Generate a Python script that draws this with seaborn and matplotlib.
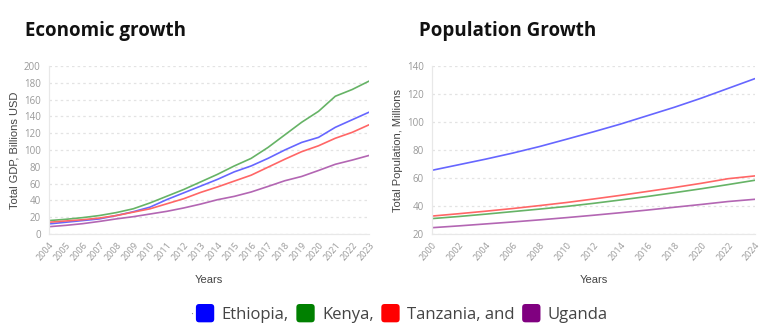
import matplotlib
matplotlib.use("Agg")
import matplotlib.pyplot as plt
import seaborn as sns
import pandas as pd
from matplotlib.patches import Patch, FancyBboxPatch
from matplotlib.legend_handler import HandlerPatch

countries = ["Ethiopia", "Kenya", "Tanzania", "Uganda"]
legend_labels = ["Ethiopia,", "Kenya,", "Tanzania, and", "Uganda"]
base_colors = ["#0000ff", "#008000", "#ff0000", "#800080"]
line_colors = ["#6666ff", "#66b366", "#ff6666", "#b366b3"]

gdp_years = list(range(2004, 2024))
gdp_ethiopia = [12, 14, 16, 18, 22, 26.5, 32, 41, 49, 57, 65, 74, 81, 90, 100, 109, 115, 127, 136, 145]
gdp_kenya = [16, 17.5, 19.5, 22, 25.5, 30, 37, 45, 53, 62, 71, 81, 90, 103, 118, 133, 146, 164, 172, 182]
gdp_tanzania = [14, 15.5, 17, 19, 22, 26, 30, 36, 42, 49.5, 56, 63, 70, 79.5, 89, 98, 105, 114, 121, 130]
gdp_uganda = [8.7, 10.3, 12.3, 15, 18, 20.6, 23.8, 27, 31, 35.6, 40.8, 44.8, 50, 56.6, 63.4, 68.5, 75.6, 83, 88, 93.5]

pop_years = list(range(2000, 2025, 2))
pop_ethiopia = [65.5, 69.5, 73.5, 77.8, 82.5, 87.7, 93, 98.5, 104.5, 110.5, 117, 124, 131]
pop_kenya = [31, 32.5, 34.2, 36, 37.8, 39.7, 41.9, 44.3, 46.8, 49.5, 52.3, 55.3, 58.4]
pop_tanzania = [32.8, 34.5, 36.3, 38.2, 40.3, 42.5, 45, 47.6, 50.4, 53.2, 56.2, 59.5, 61.5]
pop_uganda = [24.5, 25.8, 27.2, 28.6, 30.1, 31.7, 33.4, 35.2, 37.1, 39.1, 41.1, 43.2, 44.8]

def long_df(years, series):
    rows = []
    for c, vals in zip(countries, series):
        for y, v in zip(years, vals):
            rows.append({"Year": y, "Value": v, "Country": c})
    return pd.DataFrame(rows)

gdp_df = long_df(gdp_years, [gdp_ethiopia, gdp_kenya, gdp_tanzania, gdp_uganda])
pop_df = long_df(pop_years, [pop_ethiopia, pop_kenya, pop_tanzania, pop_uganda])
palette = dict(zip(countries, line_colors))

sns.set_theme(style="white")
plt.rcParams["font.family"] = ["Open Sans", "DejaVu Sans"]

fig = plt.figure(figsize=(7.68, 3.35), dpi=100)
ax1 = fig.add_axes([49 / 768, 1 - 234 / 335, 320 / 768, 168 / 335])
ax2 = fig.add_axes([432 / 768, 1 - 234 / 335, 323 / 768, 168 / 335])

def style(ax, years, ylim, step, ylabel):
    ax.set_xlim(years[0], years[-1])
    ax.set_ylim(*ylim)
    ax.set_xticks(years)
    ax.set_yticks(range(ylim[0], ylim[1] + 1, step))
    ax.tick_params(axis="x", labelrotation=50, labelsize=6.5, colors="#e8e8e8",
                   labelcolor="#999999", length=4, pad=1)
    ax.tick_params(axis="y", labelsize=7, colors="#e8e8e8", labelcolor="#999999",
                   length=4, pad=2)
    for lbl in ax.get_xticklabels():
        lbl.set_ha("right")
        lbl.set_rotation_mode("anchor")
    ax.grid(axis="y", color="#e3e3e3", linestyle=(0, (2, 2.5)), linewidth=0.9)
    ax.set_axisbelow(True)
    for s in ["top", "right"]:
        ax.spines[s].set_visible(False)
    for s in ["left", "bottom"]:
        ax.spines[s].set_color("#e8e8e8")
        ax.spines[s].set_linewidth(0.9)
    ax.set_ylabel(ylabel, fontsize=8, color="#444444", labelpad=3,
                  family=["Liberation Sans", "DejaVu Sans"])
    ax.set_xlabel("Years", fontsize=8, color="#444444", labelpad=9,
                  family=["Liberation Sans", "DejaVu Sans"])

sns.lineplot(data=gdp_df, x="Year", y="Value", hue="Country", palette=palette,
             linewidth=1.2, ax=ax1, legend=False)
sns.lineplot(data=pop_df, x="Year", y="Value", hue="Country", palette=palette,
             linewidth=1.2, ax=ax2, legend=False)
style(ax1, gdp_years, (0, 200), 20, "Total GDP, Billions USD")
style(ax2, pop_years, (20, 140), 20, "Total Population, Millions")

fig.text(25 / 768, 1 - 31 / 335, "Economic growth", fontsize=13.5, fontweight="bold",
         color="#111111", va="center", ha="left")
fig.text(419 / 768, 1 - 31 / 335, "Population Growth", fontsize=13.5, fontweight="bold",
         color="#111111", va="center", ha="left")


class RoundSquareHandler(HandlerPatch):
    def create_artists(self, legend, orig_handle, xdescent, ydescent, width, height,
                       fontsize, trans):
        s = fontsize * 1.1
        x = -xdescent + (width - s) / 2
        y = -ydescent + (height - s) / 2
        p = FancyBboxPatch((x, y), s, s,
                           boxstyle="round,pad=0,rounding_size=%f" % (s * 0.18),
                           facecolor=orig_handle.get_facecolor(), edgecolor="none",
                           transform=trans)
        return [p]


handles = [Patch(facecolor=c) for c in base_colors]
leg = fig.legend(handles, legend_labels, loc="center", bbox_to_anchor=(402 / 768, 1 - 315 / 335),
                 ncol=4, frameon=False, fontsize=12, handlelength=1.1, handletextpad=0.45,
                 columnspacing=0.45, borderpad=0,
                 handler_map={Patch: RoundSquareHandler()})
for t in leg.get_texts():
    t.set_color("#444444")
fig.text(192 / 768, 1 - 315 / 335, "·", fontsize=8, color="#888888", ha="center", va="center")

fig.savefig("out.png", dpi=100)
